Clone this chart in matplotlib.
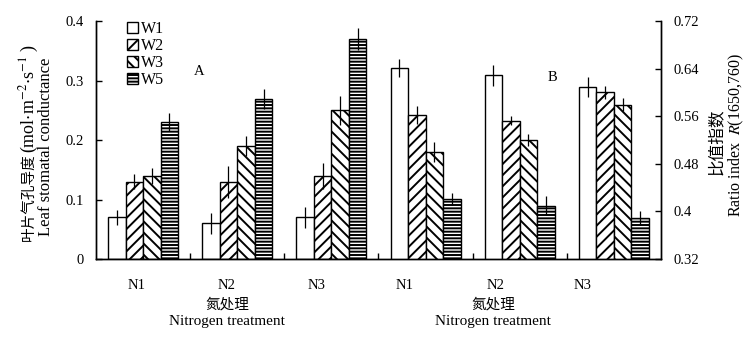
import matplotlib
matplotlib.use('Agg')
import matplotlib.pyplot as plt
from matplotlib.patches import Patch
import numpy as np

plt.rcParams['font.family'] = ['Liberation Serif', 'Noto Sans CJK SC', 'DejaVu Serif']
plt.rcParams['mathtext.fontset'] = 'stix'
plt.rcParams['hatch.linewidth'] = 1.4
plt.rcParams['axes.unicode_minus'] = False

# 数据
groups = ['N1', 'N2', 'N3']
series = ['W1', 'W2', 'W3', 'W5']
hatches = ['', '///', '\\\\\\', '-----']

# A: 叶片气孔导度
cond_w1 = [0.07, 0.06, 0.07]
cond_w2 = [0.13, 0.13, 0.14]
cond_w3 = [0.14, 0.19, 0.25]
cond_w5 = [0.23, 0.27, 0.37]
cond_err_w1 = [0.012, 0.018, 0.017]
cond_err_w2 = [0.013, 0.027, 0.022]
cond_err_w3 = [0.013, 0.017, 0.025]
cond_err_w5 = [0.015, 0.017, 0.019]

# B: 比值指数 R(1650,760)
ratio_w1 = [0.642, 0.629, 0.610]
ratio_w2 = [0.562, 0.553, 0.601]
ratio_w3 = [0.500, 0.521, 0.580]
ratio_w5 = [0.421, 0.410, 0.389]
ratio_err_w1 = [0.015, 0.017, 0.017]
ratio_err_w2 = [0.015, 0.008, 0.011]
ratio_err_w3 = [0.017, 0.010, 0.011]
ratio_err_w5 = [0.010, 0.016, 0.012]

cond_vals = [cond_w1, cond_w2, cond_w3, cond_w5]
cond_errs = [cond_err_w1, cond_err_w2, cond_err_w3, cond_err_w5]
ratio_vals = [ratio_w1, ratio_w2, ratio_w3, ratio_w5]
ratio_errs = [ratio_err_w1, ratio_err_w2, ratio_err_w3, ratio_err_w5]

fig = plt.figure(figsize=(7.5, 3.45), dpi=100)
ax = fig.add_axes([0.128, 0.2493, 0.7533, 0.6887])
ax2 = ax.twinx()

bw = 0.186
fs = 10.5


def bar_x(g, i):
    return g + 0.5 + (i - 1.5) * bw


# 左半部分 A
for i, (vals, errs) in enumerate(zip(cond_vals, cond_errs)):
    xs = [bar_x(g, i) for g in range(3)]
    ax.bar(xs, vals, width=bw, facecolor='white', edgecolor='black',
           linewidth=1.0, hatch=hatches[i], zorder=2)
    ax.errorbar(xs, vals, yerr=errs, fmt='none', ecolor='black',
                elinewidth=0.9, capsize=0, zorder=3)

# 右半部分 B
base = 0.32
for i, (vals, errs) in enumerate(zip(ratio_vals, ratio_errs)):
    xs = [bar_x(g + 3, i) for g in range(3)]
    ax2.bar(xs, np.array(vals) - base, bottom=base, width=bw,
            facecolor='white', edgecolor='black', linewidth=1.0,
            hatch=hatches[i], zorder=2)
    ax2.errorbar(xs, vals, yerr=errs, fmt='none', ecolor='black',
                 elinewidth=0.9, capsize=0, zorder=3)

ax.set_xlim(0, 6)
ax.set_ylim(0, 0.4)
ax2.set_ylim(0.32, 0.72)

ax.set_yticks([0, 0.1, 0.2, 0.3, 0.4])
ax.set_yticklabels(['0', '0.1', '0.2', '0.3', '0.4'], fontsize=fs)
ax2.set_yticks([0.32, 0.4, 0.48, 0.56, 0.64, 0.72])
ax2.set_yticklabels(['0.32', '0.4', '0.48', '0.56', '0.64', '0.72'], fontsize=fs)
ax.set_xticks([1, 2, 3, 4, 5])
ax.set_xticklabels([])

ax.tick_params(axis='y', direction='in', length=4, width=1, pad=9)
ax.tick_params(axis='x', direction='in', length=4, width=1)
ax2.tick_params(axis='y', direction='in', length=4, width=1, pad=9)

for a in (ax, ax2):
    a.spines['top'].set_visible(False)
    for s in ('left', 'right', 'bottom'):
        a.spines[s].set_linewidth(1.0)

# 横轴分组标签
label_x = [0.435, 1.39, 2.34, 3.28, 4.24, 5.17]
for x, name in zip(label_x, groups + groups):
    ax.text(x, -0.044, name, ha='center', va='center', fontsize=fs)

for cx in (1.39, 4.22):
    ax.text(cx, -0.077, '氮处理', ha='center', va='center', fontsize=fs)
    ax.text(cx, -0.1055, 'Nitrogen treatment', ha='center', va='center',
            fontsize=fs + 0.5)

# 纵轴标题
fig.text(0.038, 0.43, '叶片气孔导度', rotation=90, ha='center', va='center',
         fontsize=10.5)
fig.text(0.039, 0.715, '(mol$\\cdot$m$^{-2}$$\\cdot$s$^{-1}$ )', rotation=90,
         ha='center', va='center', fontsize=13)
fig.text(0.062, 0.575, 'Leaf stomatal conductance', rotation=90,
         ha='center', va='center', fontsize=12)
fig.text(0.956, 0.588, '比值指数', rotation=90, ha='center', va='center',
         fontsize=12)
fig.text(0.982, 0.61, 'Ratio index  $R$(1650,760)', rotation=90,
         ha='center', va='center', fontsize=11.5)

# 分图标记
ax.text(1.10, 0.315, 'A', ha='center', va='center', fontsize=fs)
ax.text(4.85, 0.306, 'B', ha='center', va='center', fontsize=fs)

# 图例
handles = [Patch(facecolor='white', edgecolor='black', hatch=h, linewidth=1.0)
           for h in hatches]
ax.legend(handles, series, loc='upper left', bbox_to_anchor=(0.055, 1.0),
          frameon=False, fontsize=11.5, handlelength=0.7, handleheight=0.7,
          handletextpad=0.2, labelspacing=0.05, borderpad=0, borderaxespad=0)

fig.savefig('out.png', dpi=100)
